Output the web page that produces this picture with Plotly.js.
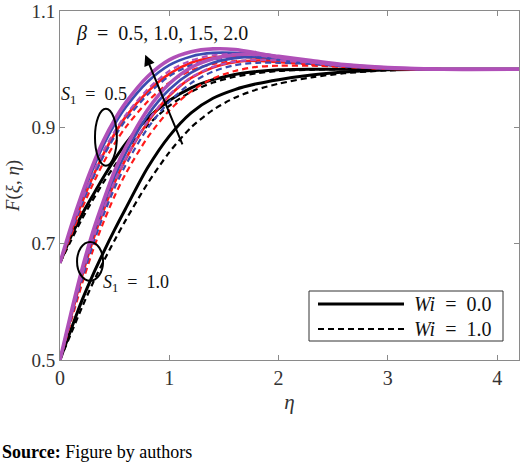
<!DOCTYPE html>
<html>
<head>
<meta charset="utf-8">
<script src="https://cdn.plot.ly/plotly-3.0.1.min.js"></script>
<style>
  html, body { margin: 0; padding: 0; background: #fff; }
  #chart { width: 520px; height: 466px; }
</style>
</head>
<body>
<div id="chart"></div>
<script>
// eta grid shared by all curves
const eta = [0, 0.1, 0.2, 0.3, 0.4, 0.5, 0.6, 0.8, 1.0, 1.2, 1.4, 1.6, 1.8, 2.0, 2.3, 2.6, 3.0, 3.5, 4.2];

// S1 = 0.5 (starts at 0.667)
const s05_b05_wi0 = [0.667, 0.712, 0.750, 0.783, 0.815, 0.845, 0.872, 0.915, 0.946, 0.968, 0.982, 0.991, 0.996, 0.999, 1.000, 1.000, 1.000, 1.000, 1.000];
const s05_b05_wi1 = [0.667, 0.705, 0.742, 0.775, 0.806, 0.834, 0.860, 0.903, 0.937, 0.961, 0.977, 0.987, 0.993, 0.997, 0.999, 1.000, 1.000, 1.000, 1.000];
const s05_b10_wi0 = [0.667, 0.720, 0.770, 0.815, 0.855, 0.889, 0.918, 0.961, 0.992, 1.011, 1.020, 1.022, 1.020, 1.016, 1.010, 1.005, 1.001, 1.000, 1.000];
const s05_b10_wi1 = [0.667, 0.714, 0.760, 0.802, 0.840, 0.872, 0.900, 0.944, 0.977, 0.998, 1.009, 1.014, 1.014, 1.012, 1.008, 1.004, 1.001, 1.000, 1.000];
const s05_b15_wi0 = [0.667, 0.726, 0.780, 0.828, 0.870, 0.905, 0.934, 0.978, 1.007, 1.022, 1.028, 1.028, 1.025, 1.020, 1.012, 1.006, 1.002, 1.000, 1.000];
const s05_b15_wi1 = [0.667, 0.719, 0.768, 0.812, 0.851, 0.884, 0.912, 0.956, 0.988, 1.007, 1.017, 1.021, 1.020, 1.016, 1.010, 1.005, 1.001, 1.000, 1.000];
const s05_b20_wi0 = [0.667, 0.729, 0.785, 0.835, 0.878, 0.913, 0.942, 0.987, 1.016, 1.030, 1.035, 1.034, 1.028, 1.021, 1.013, 1.007, 1.002, 1.000, 1.000];
const s05_b20_wi1 = [0.667, 0.722, 0.774, 0.820, 0.860, 0.893, 0.921, 0.965, 0.997, 1.015, 1.024, 1.026, 1.024, 1.019, 1.012, 1.006, 1.002, 1.000, 1.000];

// S1 = 1.0 (starts at 0.5)
const s10_b05_wi0 = [0.500, 0.552, 0.602, 0.646, 0.686, 0.724, 0.760, 0.830, 0.885, 0.925, 0.950, 0.965, 0.975, 0.982, 0.990, 0.995, 0.999, 1.000, 1.000];
const s10_b05_wi1 = [0.500, 0.545, 0.590, 0.632, 0.670, 0.706, 0.740, 0.803, 0.857, 0.900, 0.930, 0.951, 0.965, 0.975, 0.986, 0.993, 0.998, 1.000, 1.000];
const s10_b10_wi0 = [0.500, 0.573, 0.643, 0.705, 0.758, 0.805, 0.845, 0.908, 0.954, 0.985, 1.003, 1.012, 1.015, 1.014, 1.010, 1.006, 1.002, 1.000, 1.000];
const s10_b10_wi1 = [0.500, 0.566, 0.630, 0.688, 0.738, 0.782, 0.820, 0.882, 0.929, 0.962, 0.984, 0.997, 1.004, 1.006, 1.006, 1.004, 1.001, 1.000, 1.000];
const s10_b15_wi0 = [0.500, 0.577, 0.650, 0.713, 0.767, 0.815, 0.855, 0.920, 0.965, 0.994, 1.011, 1.019, 1.021, 1.018, 1.012, 1.007, 1.002, 1.000, 1.000];
const s10_b15_wi1 = [0.500, 0.571, 0.638, 0.698, 0.750, 0.796, 0.835, 0.898, 0.944, 0.976, 0.996, 1.007, 1.011, 1.011, 1.009, 1.005, 1.001, 1.000, 1.000];
const s10_b20_wi0 = [0.500, 0.580, 0.655, 0.720, 0.775, 0.825, 0.865, 0.930, 0.975, 1.003, 1.018, 1.025, 1.026, 1.022, 1.015, 1.008, 1.003, 1.000, 1.000];
const s10_b20_wi1 = [0.500, 0.575, 0.645, 0.707, 0.760, 0.807, 0.846, 0.910, 0.956, 0.986, 1.004, 1.013, 1.016, 1.015, 1.011, 1.006, 1.002, 1.000, 1.000];

const xTicks = [0, 1, 2, 3, 4];
const yTicks = [0.5, 0.7, 0.9, 1.1];
const yTickText = ['0.5', '0.7', '0.9', '1.1'];

const SERIF = 'Liberation Serif, Times New Roman, serif';
const AXIS_GREY = '#8a8a8a';
const TXT = '#333';
const C = { b05: '#000000', b10: '#ff1a1a', b15: '#3a4cb0', b20: '#b050b8' };

function curve(y, color, dashed, w) {
    return {
        x: eta, y: y, type: 'scatter', mode: 'lines', showlegend: false, hoverinfo: 'skip',
        line: { color: color, width: w, dash: dashed ? '6px,4px' : 'solid', shape: 'spline', smoothing: 0.8 }
    };
}

const traces = [
    curve(s10_b05_wi1, C.b05, true, 2.2), curve(s10_b05_wi0, C.b05, false, 3),
    curve(s05_b05_wi1, C.b05, true, 2.2), curve(s05_b05_wi0, C.b05, false, 3),
    curve(s10_b10_wi1, C.b10, true, 2.2), curve(s10_b10_wi0, C.b10, false, 2.6),
    curve(s05_b10_wi1, C.b10, true, 2.2), curve(s05_b10_wi0, C.b10, false, 2.6),
    curve(s10_b15_wi1, C.b15, true, 2.2), curve(s10_b15_wi0, C.b15, false, 2.6),
    curve(s05_b15_wi1, C.b15, true, 2.2), curve(s05_b15_wi0, C.b15, false, 2.6),
    curve(s10_b20_wi1, C.b20, true, 2.2), curve(s10_b20_wi0, C.b20, false, 3.6),
    curve(s05_b20_wi1, C.b20, true, 2.2), curve(s05_b20_wi0, C.b20, false, 3.6)
];

// paper coordinates helpers (plot area 459 x 349 px, top at 11)
const px = v => (v - 60) / 459;
const py = v => (360 - v) / 349;

function label(x, y, text, size, xanchor) {
    return { xref: 'paper', yref: 'paper', x: px(x), y: py(y), xanchor: xanchor || 'left', yanchor: 'middle',
             showarrow: false, text: text, font: { family: SERIF, size: size, color: '#111' } };
}

const layout = {
    width: 520, height: 466,
    paper_bgcolor: '#fff', plot_bgcolor: '#fff',
    margin: { l: 60, r: 1, t: 11, b: 106 },
    font: { family: SERIF, color: TXT, size: 20 },
    showlegend: false,
    xaxis: {
        range: [0, 4.2], tickvals: xTicks, ticktext: xTicks.map(String),
        ticks: 'inside', ticklen: 5, tickcolor: AXIS_GREY, showline: true, linecolor: AXIS_GREY,
        mirror: 'ticks', showgrid: false, zeroline: false, fixedrange: true, ticklabeloverflow: 'allow',
        tickfont: { family: SERIF, size: 20, color: TXT },
        title: { text: '<i>η</i>', font: { family: SERIF, size: 21, color: TXT }, standoff: 6 }
    },
    yaxis: {
        range: [0.4999, 1.1001], tickvals: yTicks, ticktext: yTickText,
        ticks: 'inside', ticklen: 5, tickcolor: AXIS_GREY, showline: true, linecolor: AXIS_GREY,
        mirror: 'ticks', showgrid: false, zeroline: false, fixedrange: true, ticklabeloverflow: 'allow',
        tickfont: { family: SERIF, size: 19, color: TXT },
        title: { text: '<i>F</i>(<i>ξ</i>, <i>η</i>)', font: { family: SERIF, size: 19, color: TXT }, standoff: 6 }
    },
    shapes: [
        // ellipses marking the two S1 groups
        { type: 'circle', xref: 'x', yref: 'y', x0: 0.32, x1: 0.52, y0: 0.834, y1: 0.932, line: { color: '#000', width: 2 } },
        { type: 'circle', xref: 'x', yref: 'y', x0: 0.156, x1: 0.394, y0: 0.636, y1: 0.703, line: { color: '#000', width: 2 } },
        // legend box
        { type: 'rect', xref: 'paper', yref: 'paper', x0: px(309), x1: px(503), y0: py(341), y1: py(291),
          line: { color: '#333', width: 1 }, fillcolor: '#fff' },
        { type: 'line', xref: 'paper', yref: 'paper', x0: px(318), x1: px(404), y0: py(304), y1: py(304),
          line: { color: '#000', width: 3 } },
        { type: 'line', xref: 'paper', yref: 'paper', x0: px(318), x1: px(404), y0: py(329), y1: py(329),
          line: { color: '#000', width: 2, dash: '6px,4px' } }
    ],
    annotations: [
        label(162, 33, '<i>β</i>  =  0.5, 1.0, 1.5, 2.0', 20, 'center'),
        { xref: 'x', yref: 'y', axref: 'x', ayref: 'y', x: 0.78, y: 1.025, ax: 1.126, ay: 0.868,
          text: '', showarrow: true, arrowhead: 2, arrowsize: 1.1, arrowwidth: 2, arrowcolor: '#000' },
        label(59, 96, '<i>S</i><sub>1</sub>  =  0.5', 18),
        label(101, 283, '<i>S</i><sub>1</sub>  =  1.0', 18),
        label(412, 304, '<i>Wi</i>  =  0.0', 20),
        label(412, 329, '<i>Wi</i>  =  1.0', 20),
        { xref: 'paper', yref: 'paper', x: px(0), y: py(452), xanchor: 'left', yanchor: 'middle', showarrow: false,
          text: '<b>Source:</b> Figure by authors', font: { family: SERIF, size: 18, color: '#000' } }
    ]
};

Plotly.newPlot('chart', traces, layout, { displayModeBar: false, staticPlot: true });
</script>
</body>
</html>
